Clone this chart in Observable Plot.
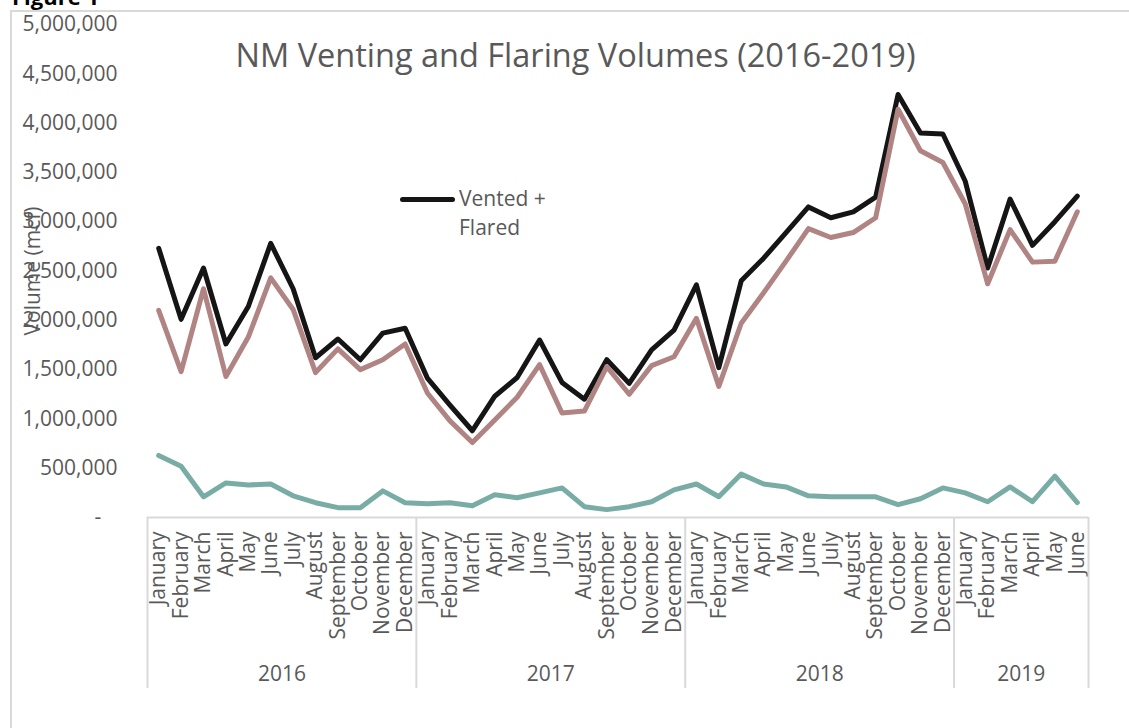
<!DOCTYPE html>
<html>
<head>
<meta charset="utf-8">
<script src="https://cdn.jsdelivr.net/npm/d3@7"></script>
<script src="https://cdn.jsdelivr.net/npm/@observablehq/plot@0.6"></script>
<style>
html, body { margin: 0; padding: 0; background: #fff; overflow: hidden; }
#wrap { position: relative; width: 1129px; height: 728px; font-family: "Open Sans", sans-serif; color: #595959; overflow: hidden; }
#frame { position: absolute; left: 10px; top: 10px; width: 1200px; height: 800px; border: 2px solid #d9d9d9; box-sizing: border-box; }
#fig { position: absolute; left: 12px; top: -19px; font-size: 22px; font-weight: bold; color: #000; white-space: nowrap; }
#title { position: absolute; left: 0; width: 1151px; top: 33px; text-align: center; font-size: 32.5px; line-height: 44px; white-space: nowrap; }
#legline { position: absolute; left: 400px; top: 197px; width: 55px; height: 5px; background: #151515; border-radius: 3px; }
#legtext { position: absolute; left: 459px; top: 184px; font-size: 21px; line-height: 29px; }
#chart { position: absolute; left: 0; top: 0; }
</style>
</head>
<body>
<div id="wrap">
  <div id="frame"></div>
  <div id="fig">Figure 1</div>
  <div id="chart"></div>
  <div id="title">NM Venting and Flaring Volumes (2016-2019)</div>
  <div id="legline"></div>
  <div id="legtext">Vented +<br>Flared</div>
</div>
<script>
const years = [2016, 2017, 2018, 2019];
const monthNames = ["January","February","March","April","May","June","July","August","September","October","November","December"];
const monthsPerYear = [12, 12, 12, 6];
const yTicks = [0, 500000, 1000000, 1500000, 2000000, 2500000, 3000000, 3500000, 4000000, 4500000, 5000000];

// Vented + Flared (mcf)
const ventedFlared = [
  2730000, 2010000, 2530000, 1760000, 2140000, 2780000, 2320000, 1620000, 1810000, 1600000, 1870000, 1920000,
  1410000, 1140000, 880000, 1230000, 1420000, 1800000, 1370000, 1200000, 1600000, 1360000, 1700000, 1900000,
  2360000, 1520000, 2400000, 2630000, 2890000, 3150000, 3040000, 3100000, 3250000, 4290000, 3900000, 3890000,
  3410000, 2530000, 3230000, 2760000, 3000000, 3260000
];
// Flared (mcf)
const flared = [
  2100000, 1480000, 2320000, 1430000, 1830000, 2430000, 2110000, 1470000, 1710000, 1500000, 1600000, 1760000,
  1260000, 980000, 760000, 990000, 1220000, 1550000, 1060000, 1080000, 1530000, 1250000, 1540000, 1630000,
  2020000, 1330000, 1970000, 2280000, 2600000, 2930000, 2840000, 2890000, 3040000, 4140000, 3720000, 3600000,
  3180000, 2370000, 2920000, 2590000, 2600000, 3100000
];
// Vented (mcf)
const vented = [
  630000, 520000, 210000, 350000, 330000, 340000, 220000, 150000, 100000, 100000, 270000, 150000,
  140000, 150000, 120000, 230000, 200000, 250000, 300000, 110000, 80000, 110000, 160000, 280000,
  340000, 210000, 440000, 340000, 310000, 220000, 210000, 210000, 210000, 130000, 190000, 300000,
  250000, 160000, 310000, 160000, 420000, 150000
];

// build table
const rows = [];
years.forEach((yr, k) => {
  for (let m = 0; m < monthsPerYear[k]; m++) {
    const i = rows.length;
    rows.push({i, year: yr, month: monthNames[m], vf: ventedFlared[i], fl: flared[i], ve: vented[i]});
  }
});
const n = rows.length;
const yearGroups = years.map(yr => {
  const idx = rows.filter(r => r.year === yr).map(r => r.i);
  return {year: yr, start: d3.min(idx) - 0.5, end: d3.max(idx) + 0.5, mid: d3.mean(idx)};
});
const bounds = [yearGroups[0].start, ...yearGroups.map(g => g.end)];

const plot = Plot.plot({
  width: 1129,
  height: 728,
  marginLeft: 147,
  marginRight: 41,
  marginTop: 24,
  marginBottom: 211,
  style: {fontFamily: "'Open Sans', sans-serif", fontSize: "21px", color: "#595959", background: "transparent", overflow: "visible"},
  x: {type: "linear", domain: [-0.5, n - 0.5], axis: null},
  y: {domain: [0, 5000000], axis: null},
  marks: [
    Plot.axisY({ticks: yTicks, tickSize: 0, tickPadding: 30, label: null,
      tickFormat: d => d === 0 ? "-\u00a0\u00a0\u00a0" : d3.format(",")(d)}),
    Plot.axisX({ticks: rows.map(r => r.i), tickSize: 0, tickPadding: 14, tickRotate: -90, label: null,
      tickFormat: i => rows[i].month}),
    Plot.ruleY([0], {stroke: "#d9d9d9", strokeWidth: 2}),
    Plot.ruleX(bounds, {x: d => d, stroke: "#d9d9d9", strokeWidth: 2, insetTop: 493, insetBottom: -171}),
    Plot.text(yearGroups, {x: "mid", text: d => String(d.year), frameAnchor: "bottom", dy: 163, fill: "#595959"}),
    Plot.text(["Volume (mcf)"], {frameAnchor: "left", dx: -114, rotate: -90, textAnchor: "middle", lineAnchor: "middle", fill: "#595959"}),
    Plot.line(rows, {x: "i", y: "vf", stroke: "#151515", strokeWidth: 5, strokeLinejoin: "round", strokeLinecap: "round"}),
    Plot.line(rows, {x: "i", y: "fl", stroke: "#b08483", strokeWidth: 5, strokeLinejoin: "round", strokeLinecap: "round"}),
    Plot.line(rows, {x: "i", y: "ve", stroke: "#7aaca6", strokeWidth: 5, strokeLinejoin: "round", strokeLinecap: "round"})
  ]
});
document.getElementById("chart").appendChild(plot);
</script>
</body>
</html>
